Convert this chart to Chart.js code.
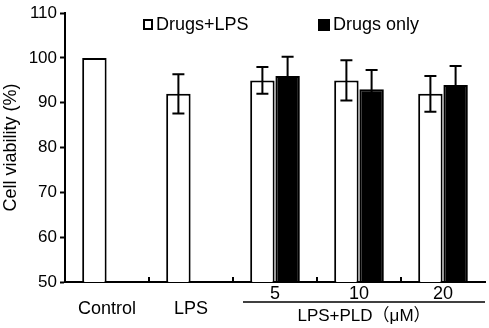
<!DOCTYPE html>
<html>
<head>
<meta charset="utf-8">
<script src="https://cdn.jsdelivr.net/npm/chart.js@4.4.1/dist/chart.umd.min.js"></script>
<style>
  body { margin: 0; background: #fff; }
  #wrap { width: 489px; height: 328px; position: relative; }
</style>
</head>
<body>
<div id="wrap"><canvas id="barChart"></canvas></div>
<script>
// data
const categories = [["", "Control"], ["", "LPS"], ["5", ""], ["10", ""], ["20", ""]];
const drugsLps = [100, 92, 95, 95, 92];
const drugsLpsErr = [0, 4.4, 3, 4.5, 4];
const drugsOnly = [null, null, 96, 93, 94];
const drugsOnlyErr = [null, null, 4.3, 4.3, 4.2];
const yTicks = [50, 60, 70, 80, 90, 100, 110];
const groupLabel = "LPS+PLD（μM）";
const FONT = "Arial, 'Liberation Sans', 'Noto Sans CJK SC', sans-serif";

const errorBars = {
  id: "errorBars",
  afterDatasetsDraw(chart) {
    const ctx = chart.ctx;
    const y = chart.scales.y;
    ctx.save();
    ctx.strokeStyle = "#000";
    ctx.lineWidth = 2;
    chart.data.datasets.forEach((ds, i) => {
      const meta = chart.getDatasetMeta(i);
      meta.data.forEach((bar, j) => {
        const v = ds.data[j], e = ds.errors[j];
        if (v == null || !e) return;
        const top = y.getPixelForValue(v + e);
        const bot = y.getPixelForValue(v - e);
        ctx.beginPath();
        ctx.moveTo(bar.x, top); ctx.lineTo(bar.x, bot);
        ctx.moveTo(bar.x - 6, top); ctx.lineTo(bar.x + 6, top);
        ctx.moveTo(bar.x - 6, bot); ctx.lineTo(bar.x + 6, bot);
        ctx.stroke();
      });
    });
    ctx.restore();
  }
};

const extras = {
  id: "extras",
  afterDraw(chart) {
    const ctx = chart.ctx;
    const x = chart.scales.x;
    const area = chart.chartArea;
    ctx.save();
    ctx.strokeStyle = "#000";
    ctx.fillStyle = "#000";
    ctx.lineWidth = 2;
    // category boundary ticks, pointing up
    for (let i = 0; i < categories.length - 1; i++) {
      const px = (x.getPixelForValue(i) + x.getPixelForValue(i + 1)) / 2;
      ctx.beginPath();
      ctx.moveTo(px, area.bottom);
      ctx.lineTo(px, area.bottom - 5);
      ctx.stroke();
    }
    // group line + label under the dose ticks
    const x0 = (x.getPixelForValue(1) + x.getPixelForValue(2)) / 2 + 10;
    ctx.lineWidth = 1.5;
    ctx.beginPath();
    ctx.moveTo(x0, 302);
    ctx.lineTo(area.right, 302);
    ctx.stroke();
    ctx.font = "17px " + FONT;
    ctx.textAlign = "center";
    ctx.textBaseline = "middle";
    ctx.fillText(groupLabel, (x0 + area.right) / 2, 316);

    // legend
    ctx.font = "18px " + FONT;
    ctx.textAlign = "left";
    ctx.lineWidth = 2;
    ctx.fillStyle = "#fff";
    ctx.fillRect(144, 20, 8, 9);
    ctx.strokeRect(144, 20, 8, 9);
    ctx.fillStyle = "#000";
    ctx.fillText("Drugs+LPS", 156, 25);
    ctx.fillRect(318, 19, 12, 12);
    ctx.fillText("Drugs only", 333, 25);
    ctx.restore();
  }
};

const ctx = document.getElementById("barChart").getContext("2d");
new Chart(ctx, {
  type: "bar",
  data: {
    labels: categories,
    datasets: [
      {
        label: "Drugs+LPS",
        data: drugsLps,
        errors: drugsLpsErr,
        backgroundColor: "#fff",
        borderColor: "#000",
        borderWidth: 2,
        categoryPercentage: 0.6,
        barPercentage: 0.97
      },
      {
        label: "Drugs only",
        data: drugsOnly,
        errors: drugsOnlyErr,
        backgroundColor: "#000",
        borderColor: "#000",
        borderWidth: 2,
        categoryPercentage: 0.6,
        barPercentage: 0.97
      }
    ]
  },
  options: {
    responsive: true,
    maintainAspectRatio: false,
    animation: false,
    layout: { padding: { top: 10, right: 4, left: 0, bottom: 0 } },
    scales: {
      x: {
        grid: { display: false },
        border: { display: true, color: "#000", width: 2 },
        ticks: {
          color: "#000",
          font: { family: FONT, size: 18, lineHeight: 0.8 },
          padding: -3,
          maxRotation: 0
        },
        afterFit: s => { s.height = 46; }
      },
      y: {
        min: 50,
        max: 110,
        afterBuildTicks: s => { s.ticks = yTicks.map(v => ({ value: v })); },
        grid: { drawOnChartArea: false, tickLength: 5, tickColor: "#000", tickWidth: 2 },
        border: { display: true, color: "#000", width: 2 },
        ticks: { color: "#000", font: { family: FONT, size: 17 }, padding: 3 },
        title: {
          display: true,
          text: "Cell viability (%)",
          color: "#000",
          font: { family: FONT, size: 18 },
          padding: { top: 0, bottom: 2 }
        },
        afterFit: s => { s.width = 65; }
      }
    },
    plugins: {
      legend: { display: false },
      tooltip: { enabled: false }
    }
  },
  plugins: [errorBars, extras]
});
</script>
</body>
</html>
